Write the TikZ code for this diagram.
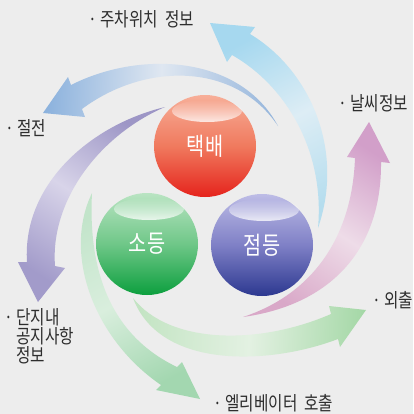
\documentclass[tikz,border=0pt]{standalone}
\usepackage{fontspec}
\newfontfamily\kr{Noto Sans CJK KR}
\usetikzlibrary{fadings}
\definecolor{bg}{HTML}{EDEDED}
\definecolor{txt}{HTML}{2E2E2E}
\definecolor{lbH}{HTML}{A6D8EF}\definecolor{lbM}{HTML}{DDEDF5}\definecolor{lbT}{HTML}{B5DDEE}
\definecolor{bH}{HTML}{8CB2DD}\definecolor{bM}{HTML}{DFE7F1}\definecolor{bT}{HTML}{96B6DC}
\definecolor{pH}{HTML}{A29BCA}\definecolor{pM}{HTML}{D8D4E9}\definecolor{pT}{HTML}{9D96C6}
\definecolor{kH}{HTML}{D29FC9}\definecolor{kM}{HTML}{EEDCE8}\definecolor{kT}{HTML}{D9A8C8}
\definecolor{gH}{HTML}{A5D8A7}\definecolor{gM}{HTML}{E3F1E2}\definecolor{gT}{HTML}{C3E4C3}
\definecolor{eH}{HTML}{A3D7B0}\definecolor{eM}{HTML}{D9EEDD}\definecolor{eT}{HTML}{C2E4CA}
\definecolor{rT}{HTML}{F7AE98}\definecolor{rM}{HTML}{F07A5E}\definecolor{rB}{HTML}{E5231C}
\definecolor{sT}{HTML}{B9E4C2}\definecolor{sM}{HTML}{6FC788}\definecolor{sB}{HTML}{0C9F3E}
\definecolor{vT}{HTML}{BDBCE6}\definecolor{vM}{HTML}{7F80C6}\definecolor{vB}{HTML}{2C3890}
\begin{document}
\begin{tikzpicture}[x=0.03cm,y=-0.03cm,line join=round,
    lbl/.style={font=\kr\fontsize{16.5}{16.3}\selectfont,text=txt,inner sep=0pt,anchor=west,xscale=.81},
    balltxt/.style={font=\kr\fontsize{21}{22}\selectfont,text=white,inner sep=0pt,xscale=.8},
    shine/.style={white,path fading=north,fill opacity=.8}]
    \def\radius{1.53cm}
    \fill[bg] (0,0) rectangle (413,414);
    \useasboundingbox (0,0) rectangle (413,414);
    % curved arrows
    \shade[top color=lbH,bottom color=lbT,middle color=lbM,shading angle=28]
      (318,228) .. controls (345,150) and (310,70) .. (250,34) -- (255,27) -- (210,23)
      -- (227,62) -- (232,55) .. controls (285,85) and (325,150) .. (318,228) -- cycle;
    \shade[top color=bH,bottom color=bT,middle color=bM,shading angle=87]
      (278,126) .. controls (240,55) and (140,50) .. (71,85) -- (68,77) -- (43,113)
      -- (85,117) -- (82,109) .. controls (145,62) and (235,62) .. (278,126) -- cycle;
    \shade[top color=pH,bottom color=pT,middle color=pM,shading angle=147]
      (165,107) .. controls (90,125) and (22,185) .. (27,262) -- (18,262) -- (38,302)
      -- (65,268) -- (55,266) .. controls (50,200) and (100,135) .. (165,107) -- cycle;
    \shade[top color=kH,bottom color=kT,middle color=kM,shading angle=-33]
      (243,317) .. controls (310,295) and (352,240) .. (355,158) -- (347,157) -- (369,122)
      -- (390,163) -- (381,162) .. controls (382,250) and (330,305) .. (243,317) -- cycle;
    \shade[top color=gH,bottom color=gT,middle color=gM,shading angle=-93]
      (133,298) .. controls (170,345) and (260,345) .. (331,314) -- (329,306) -- (366,310)
      -- (340,347) -- (338,339) .. controls (270,365) and (160,370) .. (133,298) -- cycle;
    \shade[top color=eH,bottom color=eT,middle color=eM,shading angle=-152]
      (92,193) .. controls (88,270) and (110,335) .. (177,367) -- (182,362) -- (200,399)
      -- (156,390) -- (161,385) .. controls (95,340) and (62,255) .. (92,193) -- cycle;
    % spheres
    \coordinate (C1) at (205,146);
    \coordinate (C2) at (147,244);
    \coordinate (C3) at (262,245);
    \shade[top color=rT,bottom color=rB,middle color=rM] (C1) circle (\radius);
    \shade[top color=sT,bottom color=sB,middle color=sM] (C2) circle (\radius);
    \shade[top color=vT,bottom color=vB,middle color=vM] (C3) circle (\radius);
    \fill[shine] ([xshift=.06cm,yshift=1.05cm]C1) ellipse (1.05cm and .33cm);
    \fill[shine] ([xshift=.06cm,yshift=1.05cm]C2) ellipse (1.05cm and .33cm);
    \fill[shine] ([xshift=.06cm,yshift=1.05cm]C3) ellipse (1.05cm and .33cm);
    \node[balltxt] (parcel) at (C1) {택배};
    \node[balltxt] (lightsoff) at (C2) {소등};
    \node[balltxt] (lightson) at (C3) {점등};
    % labels
    \node[lbl] (parking) at (88,19) {· 주차위치\ \ 정보};
    \node[lbl] (saving) at (5,128) {· 절전};
    \node[lbl] (weather) at (338,103) {· 날씨정보};
    \node[lbl] (outing) at (372,300) {· 외출};
    \node[lbl,anchor=north west,align=left] (notice) at (4,308) {· 단지내\\\phantom{· }공지사항\\\phantom{· }정보};
    \node[lbl] (elevator) at (213,403) {· 엘리베이터\ \ 호출};
\end{tikzpicture}
\end{document}
